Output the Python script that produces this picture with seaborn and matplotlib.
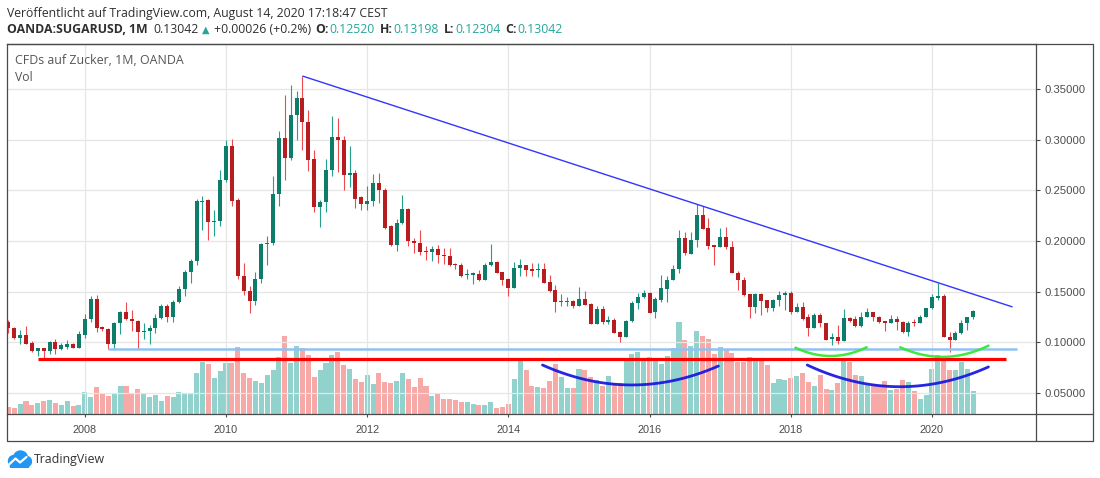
import numpy as np
import pandas as pd
import matplotlib
matplotlib.use("Agg")
import matplotlib.pyplot as plt
import seaborn as sns
from matplotlib.lines import Line2D
from matplotlib.ticker import FormatStrFormatter
from matplotlib.patches import Circle, Rectangle

# ---------------- data (monthly OHLC, Dec 2006 .. Aug 2020) ----------------
start_month = "2006-12"
opens = [0.1200, 0.1145, 0.1039, 0.1069, 0.0990, 0.0914, 0.0940, 0.0914, 0.1000, 0.0930,
         0.0957, 0.0980, 0.0947, 0.1070, 0.1227, 0.1424, 0.1148, 0.1130, 0.0980, 0.1194,
         0.1300, 0.1227, 0.1210, 0.1100, 0.1112, 0.1138, 0.1243, 0.1358, 0.1253, 0.1400,
         0.1526, 0.1690, 0.1800, 0.2380, 0.2400, 0.2184, 0.2197, 0.2605, 0.2934, 0.2400,
         0.1658, 0.1510, 0.1404, 0.1625, 0.1973, 0.1980, 0.2467, 0.3016, 0.2820, 0.3247,
         0.3410, 0.3170, 0.2810, 0.2340, 0.2388, 0.2704, 0.3026, 0.3000, 0.2654, 0.2670,
         0.2430, 0.2365, 0.2398, 0.2572, 0.2506, 0.2145, 0.1957, 0.2178, 0.2319, 0.2000,
         0.1980, 0.1898, 0.1888, 0.1920, 0.1865, 0.1848, 0.1776, 0.1766, 0.1661, 0.1661,
         0.1674, 0.1615, 0.1763, 0.1790, 0.1690, 0.1622, 0.1540, 0.1730, 0.1763, 0.1724,
         0.1714, 0.1720, 0.1592, 0.1516, 0.1400, 0.1400, 0.1410, 0.1360, 0.1428, 0.1380,
         0.1185, 0.1326, 0.1204, 0.1217, 0.1102, 0.1056, 0.1207, 0.1385, 0.1444, 0.1484,
         0.1300, 0.1418, 0.1530, 0.1615, 0.1720, 0.2026, 0.1875, 0.2007, 0.2257, 0.2125,
         0.1957, 0.1944, 0.2043, 0.1944, 0.1688, 0.1615, 0.1477, 0.1352, 0.1477, 0.1418,
         0.1342, 0.1418, 0.1467, 0.1490, 0.1303, 0.1345, 0.1253, 0.1145, 0.1270, 0.1194,
         0.1029, 0.1056, 0.1016, 0.1240, 0.1227, 0.1165, 0.1250, 0.1295, 0.1250, 0.1210,
         0.1194, 0.1233, 0.1200, 0.1100, 0.1200, 0.1194, 0.1253, 0.1336, 0.1441, 0.1457,
         0.1056, 0.1023, 0.1089, 0.1187, 0.12520]
highs = [0.1220, 0.1150, 0.1118, 0.1158, 0.1013, 0.0945, 0.0945, 0.1013, 0.1030, 0.0997,
         0.1020, 0.0990, 0.1110, 0.1277, 0.1457, 0.1467, 0.1160, 0.1140, 0.1200, 0.1310,
         0.1398, 0.1316, 0.1220, 0.1194, 0.1170, 0.1277, 0.1375, 0.1380, 0.1420, 0.1560,
         0.1717, 0.1820, 0.2414, 0.2447, 0.2414, 0.2310, 0.2697, 0.3000, 0.3006, 0.2420,
         0.1780, 0.1560, 0.1690, 0.1980, 0.2052, 0.2645, 0.3090, 0.3440, 0.3540, 0.3477,
         0.3628, 0.3290, 0.2900, 0.2400, 0.2812, 0.3237, 0.3214, 0.3033, 0.2940, 0.2704,
         0.2440, 0.2546, 0.2664, 0.2670, 0.2520, 0.2155, 0.2217, 0.2457, 0.2325, 0.2029,
         0.2105, 0.1947, 0.1947, 0.1957, 0.1930, 0.1930, 0.1786, 0.1785, 0.1720, 0.1697,
         0.1714, 0.1780, 0.1970, 0.1805, 0.1695, 0.1630, 0.1796, 0.1820, 0.1765, 0.1780,
         0.1786, 0.1780, 0.1664, 0.1566, 0.1477, 0.1445, 0.1420, 0.1550, 0.1510, 0.1385,
         0.1360, 0.1360, 0.1260, 0.1240, 0.1112, 0.1217, 0.1410, 0.1490, 0.1520, 0.1497,
         0.1450, 0.1660, 0.1655, 0.1760, 0.2110, 0.2090, 0.2090, 0.2362, 0.2350, 0.2224,
         0.1960, 0.2125, 0.2141, 0.2000, 0.1700, 0.1648, 0.1480, 0.1490, 0.1490, 0.1420,
         0.1425, 0.1510, 0.1510, 0.1510, 0.1390, 0.1400, 0.1280, 0.1290, 0.1286, 0.1195,
         0.1095, 0.1170, 0.1330, 0.1253, 0.1260, 0.1296, 0.1336, 0.1298, 0.1255, 0.1212,
         0.1266, 0.1260, 0.1207, 0.1207, 0.1227, 0.1266, 0.1342, 0.1480, 0.1590, 0.1480,
         0.1100, 0.1112, 0.1220, 0.1253, 0.13198]
lows = [0.1089, 0.1030, 0.0980, 0.0980, 0.0905, 0.0865, 0.0842, 0.0880, 0.0880, 0.0925,
        0.0930, 0.0940, 0.0940, 0.1040, 0.1200, 0.1100, 0.1110, 0.0930, 0.0930, 0.1080,
        0.1220, 0.1110, 0.0937, 0.1030, 0.0980, 0.1090, 0.1230, 0.1200, 0.1200, 0.1390,
        0.1454, 0.1590, 0.1760, 0.2105, 0.2013, 0.2052, 0.2145, 0.2580, 0.2342, 0.1625,
        0.1470, 0.1290, 0.1370, 0.1585, 0.1766, 0.1960, 0.2350, 0.2600, 0.2800, 0.2993,
        0.2900, 0.2687, 0.2290, 0.2138, 0.2283, 0.2638, 0.2678, 0.2500, 0.2530, 0.2325,
        0.2302, 0.2310, 0.2348, 0.2375, 0.2118, 0.1947, 0.1900, 0.2170, 0.1953, 0.1880,
        0.1865, 0.1816, 0.1800, 0.1780, 0.1770, 0.1750, 0.1724, 0.1642, 0.1625, 0.1572,
        0.1608, 0.1610, 0.1755, 0.1680, 0.1566, 0.1457, 0.1535, 0.1650, 0.1650, 0.1658,
        0.1648, 0.1585, 0.1500, 0.1303, 0.1358, 0.1358, 0.1342, 0.1355, 0.1365, 0.1180,
        0.1180, 0.1177, 0.1177, 0.1090, 0.1000, 0.1055, 0.1205, 0.1330, 0.1440, 0.1286,
        0.1243, 0.1400, 0.1400, 0.1610, 0.1687, 0.1858, 0.1870, 0.1944, 0.2115, 0.1918,
        0.1760, 0.1940, 0.1924, 0.1680, 0.1516, 0.1460, 0.1243, 0.1293, 0.1270, 0.1300,
        0.1310, 0.1358, 0.1320, 0.1280, 0.1300, 0.1220, 0.1062, 0.1140, 0.1150, 0.1018,
        0.0973, 0.0983, 0.1015, 0.1205, 0.1150, 0.1155, 0.1245, 0.1210, 0.1190, 0.1110,
        0.1190, 0.1118, 0.1090, 0.1063, 0.1165, 0.1190, 0.1250, 0.1325, 0.1418, 0.1050,
        0.0900, 0.1020, 0.1085, 0.1120, 0.12304]
closes = [0.1145, 0.1039, 0.1069, 0.0985, 0.0914, 0.0940, 0.0914, 0.1000, 0.0930, 0.0970,
          0.0980, 0.0947, 0.1080, 0.1227, 0.1424, 0.1138, 0.1130, 0.0980, 0.1194, 0.1300,
          0.1227, 0.1210, 0.1100, 0.1112, 0.1138, 0.1243, 0.1358, 0.1253, 0.1400, 0.1526,
          0.1690, 0.1800, 0.2390, 0.2390, 0.2184, 0.2197, 0.2605, 0.2934, 0.2391, 0.1650,
          0.1503, 0.1404, 0.1625, 0.1973, 0.1980, 0.2467, 0.3016, 0.2820, 0.3247, 0.3410,
          0.3170, 0.2800, 0.2340, 0.2388, 0.2704, 0.3026, 0.2993, 0.2654, 0.2671, 0.2418,
          0.2365, 0.2398, 0.2572, 0.2500, 0.2128, 0.1957, 0.2178, 0.2316, 0.1996, 0.1980,
          0.1888, 0.1888, 0.1921, 0.1858, 0.1848, 0.1766, 0.1766, 0.1655, 0.1671, 0.1680,
          0.1615, 0.1763, 0.1790, 0.1687, 0.1615, 0.1540, 0.1730, 0.1763, 0.1714, 0.1707,
          0.1724, 0.1589, 0.1510, 0.1395, 0.1410, 0.1410, 0.1358, 0.1428, 0.1368, 0.1185,
          0.1326, 0.1200, 0.1217, 0.1095, 0.1056, 0.1207, 0.1385, 0.1447, 0.1484, 0.1293,
          0.1424, 0.1533, 0.1615, 0.1720, 0.2026, 0.1878, 0.2007, 0.2257, 0.2122, 0.1950,
          0.1944, 0.2043, 0.1944, 0.1688, 0.1615, 0.1467, 0.1352, 0.1477, 0.1411, 0.1342,
          0.1418, 0.1467, 0.1490, 0.1303, 0.1345, 0.1230, 0.1145, 0.1270, 0.1187, 0.1023,
          0.1056, 0.1016, 0.1240, 0.1214, 0.1160, 0.1250, 0.1295, 0.1250, 0.1198, 0.1194,
          0.1233, 0.1200, 0.1100, 0.1187, 0.1194, 0.1253, 0.1336, 0.1444, 0.1454, 0.1056,
          0.1023, 0.1089, 0.1187, 0.1252, 0.13042]
volumes = [7.3, 6.3, 10, 13, 9, 11.3, 13, 14, 10.7, 9,
           13, 8, 9, 22, 17.3, 27.3, 20.3, 18, 21, 28,
           28, 21, 25, 21, 17.3, 19, 13, 18, 17.3, 22,
           21, 20.3, 41, 52, 50, 36, 43, 51, 51, 67,
           41, 36, 33, 31.3, 39, 44, 57, 78, 51, 68,
           66, 59, 37, 44, 51, 59, 62, 49, 45, 35,
           32, 39, 30, 41, 32, 31, 33, 41, 35, 27,
           36, 28, 18, 20.3, 15, 15, 14, 12, 12, 10,
           9, 9, 12, 6, 7, 10, 35, 54, 44, 28,
           27, 26, 33, 50, 37, 26, 26, 45, 44, 37,
           34, 28, 38, 30.7, 30.7, 55.7, 60, 62, 53, 57,
           53, 50, 58, 66, 92, 74, 68, 83, 78, 75,
           60, 67, 64, 61, 52, 52, 57, 55, 54, 49,
           31, 35, 34, 36, 38, 41, 32, 28, 39, 25,
           24, 31, 56, 52, 39, 38, 29, 30, 29, 33,
           24, 25, 34, 32, 23, 15, 19, 45, 59, 55,
           44, 44, 52, 45, 23]
year_ticks = [2008, 2010, 2012, 2014, 2016, 2018, 2020]
price_ticks = [0.05, 0.10, 0.15, 0.20, 0.25, 0.30, 0.35]

# drawings (bar index, price)
trend_x = [50, 170.7]
trend_y = [0.3628, 0.1349]
hline_blue = (0.0934, 17.0, 171.5)
hline_red = (0.0840, 5.1, 169.6)
arcs_blue = [[(90.8, 0.0776), (105.8, 0.0579), (120.7, 0.0766)],
             [(135.8, 0.0776), (149.9, 0.0564), (166.6, 0.0757)]]
arcs_green = [[(133.8, 0.0947), (139.7, 0.0865), (145.9, 0.0951)],
              [(151.6, 0.0951), (159.8, 0.0858), (166.6, 0.0967)]]

# ---------------- setup ----------------
sns.set_theme(style="white")
plt.rcParams["font.family"] = ["Liberation Sans", "DejaVu Sans"]

W, H = 1100, 478
fig = plt.figure(figsize=(W / 100, H / 100), dpi=100)
renderer = fig.canvas.get_renderer()


def fx(x):
    return x / W


def fy(y):
    return 1 - y / H


PANE_TOP, PANE_BOTTOM, PANE_LEFT, PANE_RIGHT = 43.5, 414, 6.5, 1035.5

months = pd.period_range(start_month, periods=len(opens), freq="M")
idx = np.arange(len(opens))
df = pd.DataFrame({"idx": idx, "open": opens, "high": highs, "low": lows,
                   "close": closes, "vol": volumes})
df["dir"] = np.where(df["close"] >= df["open"], "up", "down")

pane = [fx(PANE_LEFT), fy(PANE_BOTTOM), fx(PANE_RIGHT) - fx(PANE_LEFT), fy(PANE_TOP) - fy(PANE_BOTTOM)]
ax_vol = fig.add_axes(pane)
ax = fig.add_axes(pane, sharex=ax_vol)
ax_vol.set_zorder(1)
ax.set_zorder(2)
ax.patch.set_visible(False)

# volume bars
vol_pal = {"up": "#92d2cc", "down": "#f7a9a7"}
sns.barplot(data=df, x="idx", y="vol", hue="dir", palette=vol_pal, native_scale=True,
            dodge=False, width=0.86, errorbar=None, saturation=1, legend=False,
            linewidth=0, ax=ax_vol)
ax_vol.set_ylim(0, PANE_BOTTOM - PANE_TOP)
ax_vol.set_xlabel("")
ax_vol.set_ylabel("")
ax_vol.set_yticks([])
ax_vol.tick_params(bottom=False, labelbottom=False, left=False, labelleft=False)
for s in ax_vol.spines.values():
    s.set_visible(False)

# candles
up = df["dir"] == "up"
body_col = np.where(up, "#0d7d69", "#b71c1f")
wick_col = np.where(up, "#22a08c", "#ee4a4d")
ax.vlines(df["idx"], df["low"], df["high"], colors=wick_col, linewidth=0.8, zorder=2)
body_low = np.minimum(df["open"], df["close"])
body_h = np.maximum(np.abs(df["close"] - df["open"]), 0.0009)
ax.bar(df["idx"], body_h, bottom=body_low, width=0.68, color=body_col, linewidth=0, zorder=3)

# drawings
ax.plot(trend_x, trend_y, color="#3434ff", lw=1.0, zorder=5, solid_capstyle="butt")
ax.hlines(hline_blue[0], hline_blue[1], hline_blue[2], color="#8cc3f2", lw=1.8, zorder=4)
ax.hlines(hline_red[0], hline_red[1], hline_red[2], color="#ff0000", lw=2.3, zorder=4)


def draw_arc(pts, color, lw):
    xs = [p[0] for p in pts]
    ys = [p[1] for p in pts]
    c = np.polyfit(xs, ys, 2)
    t = np.linspace(xs[0], xs[-1], 80)
    ax.plot(t, np.polyval(c, t), color=color, lw=lw, zorder=6, solid_capstyle="round", alpha=0.92)


for a in arcs_blue:
    draw_arc(a, "#1414e0", 2.0)
for a in arcs_green:
    draw_arc(a, "#2ee82e", 1.8)

# axes limits / ticks
ppx = 0.05 / 50.66  # price per pixel
ax.set_xlim(-0.31, 174.6)
ax.set_ylim(0.35 - (PANE_BOTTOM - 89) * ppx, 0.35 + (89 - PANE_TOP) * ppx)
jan_pos = [list(months).index(pd.Period(f"{y}-01", freq="M")) for y in year_ticks]
ax.set_xticks(jan_pos)
ax.set_xticklabels([str(y) for y in year_ticks])
ax.set_yticks(price_ticks)
ax.yaxis.set_major_formatter(FormatStrFormatter("%.5f"))
ax.yaxis.tick_right()
ax.grid(True, color="#e6e6e6", lw=0.9)
ax.set_axisbelow(True)
ax.tick_params(axis="y", right=True, left=False, labelright=True, labelleft=False,
               length=3.0, width=0.8, color="#4a4a4a", labelsize=8.1,
               labelcolor="#4d4d4d", pad=3.5)
ax.tick_params(axis="x", bottom=True, length=2.2, width=0.8, color="#4a4a4a",
               labelsize=7.8, labelcolor="#4a4a4a", pad=5.5)
for s in ax.spines.values():
    s.set_color("#4a4a4a")
    s.set_linewidth(0.9)
    s.set_visible(True)

# outer frame
frame_col = "#4a4a4a"
for (x0, y0, x1, y1) in [(PANE_LEFT, PANE_TOP, 1093, PANE_TOP), (1093, PANE_TOP, 1093, 441),
                         (PANE_LEFT, 441, 1093, 441), (PANE_LEFT, PANE_BOTTOM, PANE_LEFT, 441),
                         (PANE_RIGHT, PANE_BOTTOM, 1093, PANE_BOTTOM),
                         (PANE_RIGHT, PANE_BOTTOM, PANE_RIGHT, 441)]:
    fig.add_artist(Line2D([fx(x0), fx(x1)], [fy(y0), fy(y1)], color=frame_col, lw=0.9))


# ---------------- texts ----------------
def fit_text(x, y, s, target_w, family="Open Sans", **kw):
    t = fig.text(fx(x), fy(y), s, fontsize=10, va="center", ha="left", family=family, **kw)
    w = t.get_window_extent(renderer).width
    t.set_fontsize(10 * target_w / w)
    return t


hdr_col = "#2f2f2f"
teal = "#26a69a"
fit_text(7, 13.5, "Veröffentlicht auf TradingView.com, August 14, 2020 17:18:47 CEST", 380, color=hdr_col)

# second header line: chained segments fitted to the overall width (x 7 .. 563)
segs = [("OANDA:SUGARUSD, 1M", "bold", hdr_col, "Open Sans", 0),
        ("0.13042", "normal", hdr_col, "Open Sans", 6),
        ("▲", "normal", teal, "DejaVu Sans", 4),
        ("+0.00026 (+0.2%)", "normal", hdr_col, "Open Sans", 4),
        ("O:", "bold", hdr_col, "Open Sans", 4),
        ("0.12520", "normal", teal, "Open Sans", 1),
        ("H:", "bold", hdr_col, "Open Sans", 5),
        ("0.13198", "normal", teal, "Open Sans", 1),
        ("L:", "bold", hdr_col, "Open Sans", 5),
        ("0.12304", "normal", teal, "Open Sans", 1),
        ("C:", "bold", hdr_col, "Open Sans", 5),
        ("0.13042", "normal", teal, "Open Sans", 1)]
texts = []
widths = []
for s, wt, col, fam, gap in segs:
    scale = 0.8 if s == "▲" else 1.0
    t = fig.text(0, fy(29.5), s, fontsize=10 * scale, va="center", ha="left", family=fam,
                 fontweight=wt, color=col)
    texts.append((t, scale))
    widths.append(t.get_window_extent(renderer).width)
gaps = [g for (_, _, _, _, g) in segs]
size = 10 * (563 - 7 - sum(gaps)) / sum(widths)
xpos = 7
for (t, scale), w, g in zip(texts, widths, gaps):
    xpos += g
    t.set_fontsize(size * scale)
    t.set_x(fx(xpos))
    xpos += w * size / 10

fit_text(15, 61, "CFDs auf Zucker, 1M, OANDA", 169, color="#555555")
fig.text(fx(15), fy(77.5), "Vol", fontsize=size, va="center", family="Open Sans", color="#555555")
fit_text(34, 460, "TradingView", 71, color="#333333")

# logo (cloud)
lax = fig.add_axes([fx(7), fy(468), fx(25), 18 / H])
lax.set_xlim(0, 25)
lax.set_ylim(0, 18)
lax.axis("off")
logo_col = "#2196f3"
for c in [Circle((7, 7), 5.5), Circle((13.5, 10), 7), Circle((19.5, 6.5), 5)]:
    c.set_color(logo_col)
    lax.add_patch(c)
lax.add_patch(Rectangle((3, 1.5), 18, 6, color=logo_col))
lax.plot([2.5, 8.5, 13, 19.5], [4, 9.5, 5.5, 11], color="white", lw=1.6, solid_capstyle="round")

fig.savefig("out.png", dpi=100)
